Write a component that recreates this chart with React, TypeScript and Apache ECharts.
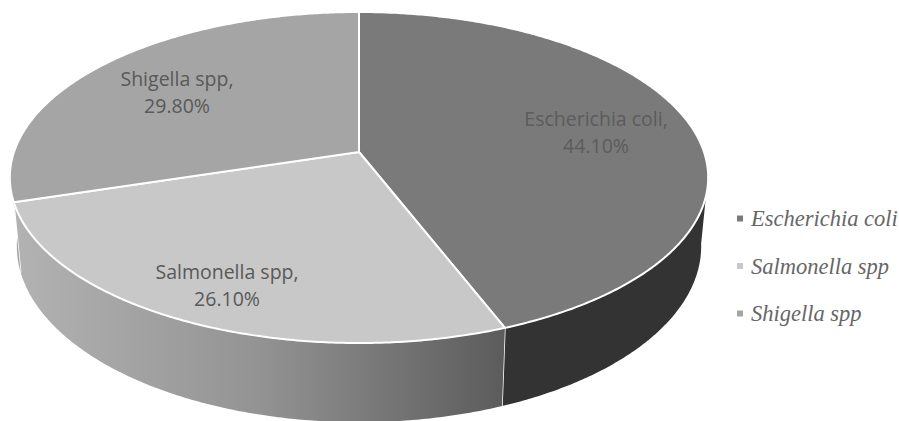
import React, { useEffect, useRef } from "react";
import * as echarts from "echarts";

const categories = ["Escherichia coli", "Salmonella spp", "Shigella spp"];
const values = [44.1, 26.1, 29.8];
const topColors = ["#7a7a7a", "#c8c8c8", "#a5a5a5"];

// Projection of the tilted disc
const CX = 359, CY = 152, A = 345, B = 161.6, K = 0.154, DEPTH = 67, SHRINK = 0.98;
const WALL_FROM = 98, WALL_TO = 264;
const LABEL_AT = [[596, 132], [227, 285], [177, 92]];

const rad = (d: number) => (d * Math.PI) / 180;
const topPoint = (deg: number) => {
  const u = Math.sin(rad(deg)), v = Math.cos(rad(deg));
  const w = 1 / (1 + K * v);
  return [CX + A * u * w, CY - B * v * w];
};
const bottomPoint = (deg: number) => {
  const u = Math.sin(rad(deg)), v = Math.cos(rad(deg));
  const w = 1 / (1 + K * v);
  return [CX + SHRINK * A * u * w, CY - B * v * w + DEPTH * w];
};
const arc = (fn: (d: number) => number[], a: number, b: number) => {
  const n = Math.max(2, Math.ceil(Math.abs(b - a) * 2));
  const pts: number[][] = [];
  for (let i = 0; i <= n; i++) pts.push(fn(a + ((b - a) * i) / n));
  return pts;
};

const wallFills = () => [
  "#333333",
  new echarts.graphic.LinearGradient(18, 0, 502, 0, [
    { offset: 0, color: "#b2b2b2" },
    { offset: 0.5, color: "#939393" },
    { offset: 1, color: "#5c5c5c" },
  ], true),
  "#a5a5a5",
];

const total = values.reduce((s, v) => s + v, 0);

function renderSlice(index: number) {
  return (_params: any, api: any) => {
    const value = api.value(0);
    const before = values.slice(0, index).reduce((s, v) => s + v, 0);
    const start = (before / total) * 360;
    const end = start + (value / total) * 360;
    const children: any[] = [];
    const wa = Math.max(start, WALL_FROM), wb = Math.min(end, WALL_TO);
    if (wb > wa) {
      children.push({
        type: "polygon",
        shape: { points: [...arc(topPoint, wa, wb), ...arc(bottomPoint, wb, wa)] },
        style: { fill: wallFills()[index], stroke: "none" },
      });
      // white seam where this slice's wall ends
      if (wb === end) {
        children.push({
          type: "line",
          shape: { x1: topPoint(wb)[0], y1: topPoint(wb)[1], x2: bottomPoint(wb)[0], y2: bottomPoint(wb)[1] },
          style: { stroke: "#ffffff", lineWidth: 1.5 },
        });
      }
    }
    children.push({
      type: "polygon",
      shape: { points: [[CX, CY], ...arc(topPoint, start, end)] },
      style: { fill: topColors[index], stroke: "#ffffff", lineWidth: 2, lineJoin: "round" },
    });
    children.push({
      type: "text",
      x: LABEL_AT[index][0],
      y: LABEL_AT[index][1],
      style: {
        text: `${categories[index]},\n${value.toFixed(2)}%`,
        fill: index === 0 ? "#5c5c5c" : "#595959",
        font: '19.5px "Open Sans"',
        lineHeight: 27,
        align: "center",
        verticalAlign: "middle",
      },
    });
    return { type: "group", children };
  };
}

export default function App() {
  const ref = useRef<HTMLDivElement>(null);
  useEffect(() => {
    document.body.style.margin = "0";
    const chart = echarts.init(ref.current!, undefined, { renderer: "svg" });
    chart.setOption({
      animation: false,
      backgroundColor: "#ffffff",
      legend: {
        orient: "vertical",
        left: 732,
        top: 202,
        itemWidth: 6,
        itemHeight: 6,
        itemGap: 24.5,
        icon: "rect",
        selectedMode: false,
        data: categories,
        textStyle: {
          fontFamily: "Liberation Serif",
          fontStyle: "italic",
          fontSize: 22.5,
          color: "#666666",
          padding: [0, 0, 0, 3],
        },
      },
      series: categories.map((name, i) => ({
        type: "custom",
        name,
        coordinateSystem: "none",
        silent: true,
        itemStyle: { color: topColors[i] },
        data: [[values[i]]],
        renderItem: renderSlice(i),
      })),
    });
    return () => chart.dispose();
  }, []);
  return <div ref={ref} style={{ width: 899, height: 421 }} />;
}
